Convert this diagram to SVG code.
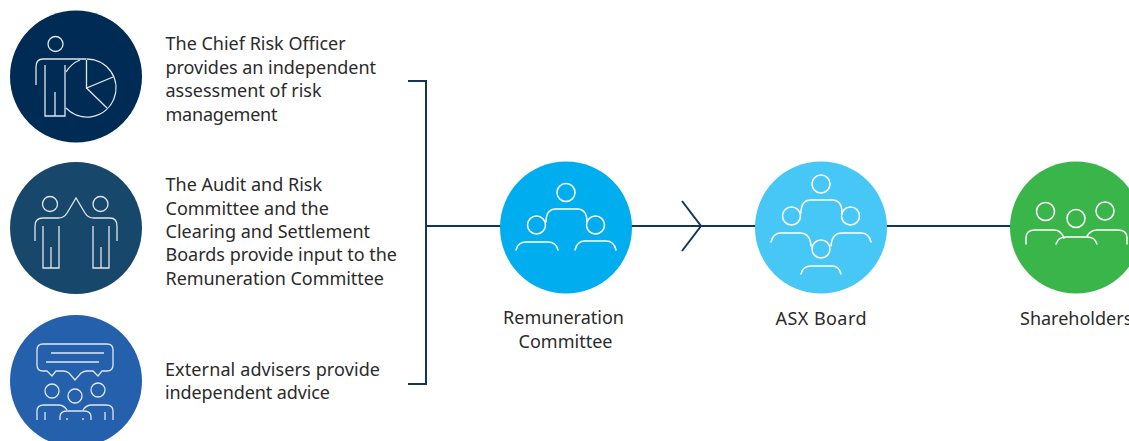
<svg xmlns="http://www.w3.org/2000/svg" width="1129" height="441" viewBox="0 0 1129 441">
<style>
.t{font-family:"Noto Sans","Liberation Sans",sans-serif;font-size:18px;fill:#2b2b2b}
.i{fill:none;stroke:#fff;stroke-width:1.5;stroke-linecap:round;stroke-linejoin:round}
.d{fill:none;stroke:#dfe6ee;stroke-width:1.3}
.c{fill:none;stroke:#12365a;stroke-width:2}
</style>
<rect width="1129" height="441" fill="#fff"/>
<g id="connectors">
<path class="c" d="M408 81H426V384H408"/>
<path class="c" d="M426 226H1012"/>
<path class="c" d="M682 201L701 226L682 251"/>
</g>
<g id="node-cro">
<circle cx="76" cy="76.500" r="66" fill="#002b54"/>
<g class="d">
<circle cx="55.500" cy="44" r="7.500"/>
<path d="M36 85V67Q36 59 43 59H86"/>
<path d="M45 65V116H65V65"/><path d="M55 92V116"/>
<path d="M86.500 59A29 29 0 1 1 66 108"/><path d="M80 60A29 29 0 0 0 66 72"/>
<path d="M86.500 60V88L113 77M86.500 88L107 108"/>
</g>
<text class="t" x="165.500" y="50">The Chief Risk Officer</text>
<text class="t" x="165.500" y="74" textLength="210.500">provides an independent</text>
<text class="t" x="165.500" y="97">assessment of risk</text>
<text class="t" x="165.500" y="121" textLength="112">management</text>
</g>
<g id="node-audit">
<circle cx="76" cy="228" r="66" fill="#17476b"/>
<g class="d">
<circle cx="50" cy="204" r="7.500"/><circle cx="100.500" cy="204" r="7.500"/>
<path d="M35 241V226Q35 218 43 218H58Q64 218 67 213L76 198L85 213Q88 218 94 218H110Q117 218 117 226V241"/>
<path d="M43 226V268H59V226M51 247V268"/>
<path d="M93 226V268H109V226M101 247V268"/>
</g>
<text class="t" x="165.500" y="191">The Audit and Risk</text>
<text class="t" x="165.500" y="215">Committee and the</text>
<text class="t" x="165.500" y="238">Clearing and Settlement</text>
<text class="t" x="165.500" y="261">Boards provide input to the</text>
<text class="t" x="165.500" y="285" textLength="218.500">Remuneration Committee</text>
</g>
<g id="node-advisers">
<circle cx="76" cy="381" r="66" fill="#2560ad"/>
<g class="d">
<path d="M43 344H107Q113 344 113 350V365Q113 371 107 371H102L98 376L93 371H87Q84 371 81 373L75 380L69 373Q66 371 63 371H56L52 376L47 371H43Q37 371 37 365V350Q37 344 43 344Z"/>
<path d="M51 353H104M46 362H99"/>
<circle cx="52" cy="391" r="7"/><circle cx="75" cy="396" r="7"/><circle cx="98" cy="390" r="7"/>
<path d="M37 420V411Q37 405 44 405H58Q64 405 67 410"/>
<path d="M60 420V417Q60 411 67 411H84Q91 411 91 417V420"/>
<path d="M83 410Q86 405 92 405H106Q113 405 113 411V420"/>
<path d="M45 412V420M105 412V420M67 418V420M83 418V420"/>
</g>
<text class="t" x="165" y="376" textLength="215">External advisers provide</text>
<text class="t" x="165" y="399" textLength="165">independent advice</text>
</g>
<g id="node-remuneration">
<circle cx="566" cy="227.500" r="66" fill="#00aeef"/>
<g class="i">
<circle cx="566" cy="192.500" r="9"/><circle cx="536.500" cy="225" r="9"/><circle cx="595.500" cy="225" r="9"/>
<path d="M546 222Q546 209 556 209H577Q587 209 587 222"/>
<path d="M516 250Q518 242 526 242H548Q556 242 558 250"/>
<path d="M575 250Q577 241 585 241H606Q614 241 616 250"/>
</g>
<text class="t" x="563.500" y="324" text-anchor="middle">Remuneration</text>
<text class="t" x="565.500" y="348" text-anchor="middle">Committee</text>
</g>
<g id="node-board">
<circle cx="821" cy="227.500" r="66" fill="#47c7f6"/>
<g class="i">
<circle cx="821" cy="184" r="9"/><circle cx="791.500" cy="216" r="9"/><circle cx="850.500" cy="216" r="9"/><circle cx="821" cy="249" r="9"/>
<path d="M801 213Q801 200 811 200H832Q842 200 842 213"/>
<path d="M771 242Q773 233 781 233H800Q810 233 811 246"/>
<path d="M871 242Q869 233 861 233H842Q832 233 831 246"/>
<path d="M801 274Q803 266 811 266H832Q839 266 841 274"/>
</g>
<text class="t" x="775.500" y="325" textLength="91">ASX Board</text>
</g>
<g id="node-shareholders">
<circle cx="1076" cy="227.500" r="66" fill="#39b54a"/>
<g class="i">
<circle cx="1045.500" cy="211.500" r="9"/><circle cx="1076" cy="218.500" r="9"/><circle cx="1105" cy="211" r="9"/>
<path d="M1026 244V238Q1026 230 1035 230H1054Q1061 230 1064 238"/>
<path d="M1056 244Q1058 237 1066 237H1087Q1095 237 1097 244"/>
<path d="M1087 236Q1091 230 1097 230H1118Q1127 230 1127 238V244"/>
</g>
<text class="t" x="1020" y="325">Shareholders</text>
</g>
</svg>
